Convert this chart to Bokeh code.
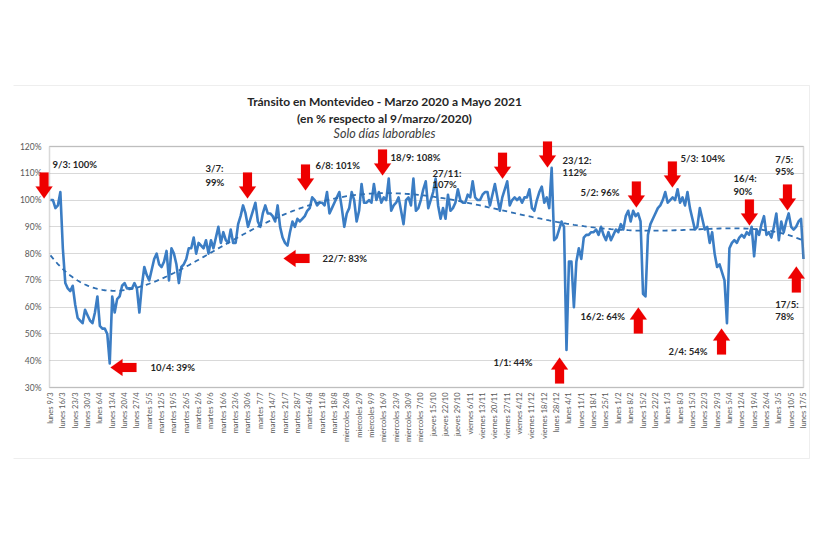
import numpy as np
from bokeh.plotting import figure
from bokeh.models import Range1d, FixedTicker, PrintfTickFormatter, Label, PolyAnnotation
from bokeh.embed import file_html
from bokeh.resources import INLINE

# ---------------- data ----------------
tick_labels = [
    "lunes 9/3", "lunes 16/3", "lunes 23/3", "lunes 30/3", "lunes 6/4", "lunes 13/4",
    "lunes 20/4", "lunes 27/4", "martes 5/5", "martes 12/5", "martes 19/5", "martes 26/5",
    "martes 2/6", "martes 9/6", "martes 16/6", "martes 23/6", "martes 30/6", "martes 7/7",
    "martes 14/7", "martes 21/7", "martes 28/7", "martes 4/8", "martes 11/8", "martes 18/8",
    "miercoles 26/8", "miercoles 2/9", "miercoles 9/9", "miercoles 16/9", "miercoles 23/9",
    "miercoles 30/9", "miercoles 7/10", "jueves 15/10", "jueves 22/10", "jueves 29/10",
    "viernes 6/11", "viernes 13/11", "viernes 20/11", "viernes 27/11", "viernes 4/12",
    "viernes 11/12", "viernes 18/12", "lunes 28/12", "lunes 4/1", "lunes 11/1", "lunes 18/1",
    "lunes 25/1", "lunes 1/2", "lunes 8/2", "lunes 15/2", "lunes 22/2", "lunes 1/3",
    "lunes 8/3", "lunes 15/3", "lunes 22/3", "lunes 29/3", "lunes 5/4", "lunes 12/4",
    "lunes 19/4", "lunes 26/4", "lunes 3/5", "lunes 10/5", "lunes 17/5",
]

# % of traffic relative to 9/3/2020, one value per working day (5 per labelled week)
transit = [
    100, 100, 97, 98, 103,
    82, 69, 67, 66, 68,
    61, 56, 55, 54, 59,
    57, 55, 54, 58, 64,
    53, 52, 52, 50, 39,
    64, 58, 63, 64, 68,
    69, 67, 67, 67, 69,
    67, 58, 68, 75, 72,
    70, 74, 78, 80, 76,
    75, 77, 81, 70, 82,
    80, 76, 69, 75, 76,
    78, 82, 82, 86, 80,
    84, 83, 82, 85, 80,
    85, 82, 86, 90, 84,
    88, 85, 84, 89, 84,
    84, 91, 94, 98, 95,
    90, 93, 96, 99, 92,
    90, 95, 98, 95, 95,
    94, 92, 98, 90, 86,
    84, 83, 88, 92, 90,
    93, 92, 93, 94, 96,
    97, 101, 100, 98, 99,
    99, 98, 103, 95, 97,
    99, 101, 103, 97, 90,
    95, 97, 103, 100, 92,
    96, 106, 99, 99, 100,
    99, 106, 100, 103, 99,
    101, 100, 108, 96, 98,
    99, 101, 96, 91, 100,
    101, 98, 108, 96, 97,
    100, 104, 107, 97, 100,
    103, 108, 98, 93, 97,
    93, 102, 96, 97, 99,
    104, 100, 99, 99, 102,
    101, 107, 101, 100, 100,
    102, 103, 103, 98, 102,
    106, 101, 96, 101, 104,
    107, 98, 100, 101, 100,
    101, 99, 101, 101, 104,
    97, 96, 100, 103, 105,
    99, 101, 97, 112, 85,
    86, 89, 92, 90, 44,
    77, 77, 60, 77, 82,
    78, 86, 87, 87, 88,
    88, 89, 87, 90, 87,
    85, 88, 85, 87, 89,
    88, 91, 89, 94, 96,
    92, 96, 94, 95, 92,
    65, 64, 87, 91, 93,
    95, 97, 98, 100, 103,
    99, 100, 101, 100, 104,
    99, 101, 98, 103, 97,
    93, 89, 90, 97, 93,
    89, 90, 84, 88, 80,
    75, 76, 73, 70, 54,
    82, 84, 85, 84, 86,
    87, 86, 88, 87, 90,
    79, 89, 87, 91, 94,
    87, 88, 86, 90, 95,
    85, 92, 88, 92, 95,
    90, 89, 90, 92, 93,
    78,
]

y_ticks = [30, 40, 50, 60, 70, 80, 90, 100, 110, 120]

# annotation arrows: tip position (working-day index, %) and pointing direction
arrow_x = [-2.6, 24.3, 79.8, 94.4, 103.3, 134.5, 183.1, 201.3, 206.2, 237.3, 238.1, 251.9, 271.8, 283.1, 298.5, 302.1]
arrow_y = [100.6, 37.5, 100.6, 78.2, 103.6, 109.2, 108.0, 112.2, 41.2, 97.2, 59.9, 104.7, 52.0, 90.5, 96.1, 75.2]
arrow_dir = ["down", "left", "down", "left", "down", "down", "down", "down", "up", "down", "up", "down", "up", "down", "down", "up"]

# annotation texts and their anchors (working-day index, %)
note_text = ["9/3: 100%", "10/4: 39%", "3/7:", "99%", "22/7: 83%", "6/8: 101%", "18/9: 108%",
             "27/11:", "107%", "23/12:", "112%", "1/1: 44%", "5/2: 96%", "16/2: 64%",
             "5/3: 104%", "2/4: 54%", "16/4:", "90%", "7/5:", "95%", "17/5:", "78%"]
note_x = [0.8, 40.5, 62.8, 62.8, 110.2, 107.3, 137.7, 154.7, 154.7, 207.4, 207.4, 179.4,
          214.7, 214.7, 255.2, 250.3, 276.6, 276.6, 293.6, 293.6, 293.6, 293.6]
note_y = [113.3, 37.5, 111.8, 106.6, 78.2, 112.9, 115.9, 109.9, 105.8, 114.8, 110.3, 39.3,
          102.8, 56.5, 115.5, 43.5, 108.1, 103.2, 115.1, 110.7, 61.0, 56.5]

title_lines = ["Tránsito en Montevideo - Marzo 2020 a Mayo 2021",
               "(en % respecto al 9/marzo/2020)",
               "Solo días laborables"]

# ---------------- geometry (canvas pixels) ----------------
W, H = 822, 548
PL, PR, PT, PB = 49, 803, 146, 387      # plot-area box inside the canvas
x0, x1 = -0.4, len(transit) - 1          # data at plot-area edges
y0, y1 = 30, 120
PXX = (PR - PL) / (x1 - x0)
PXY = (PB - PT) / (y1 - y0)

def dx(c):   # canvas x -> data x
    return x0 + (c - PL) / PXX

def dy(r):   # canvas y -> data y
    return y1 - (r - PT) / PXY

p = figure(width=W, height=H, output_backend="svg", toolbar_location=None,
           x_range=Range1d(dx(0), dx(W)), y_range=Range1d(dy(H), dy(0)),
           min_border=0, min_border_left=0, min_border_right=0,
           min_border_top=0, min_border_bottom=0,
           background_fill_color="white", border_fill_color="white")
p.outline_line_color = None

xs = np.arange(len(transit))
trend = np.polynomial.Polynomial.fit(xs, transit, 5)(xs)

# grid lines limited to plot area
try:
    p.ygrid.cross_bounds = (x0, x1)
    p.ygrid.bounds = (y0, y1)
    p.ygrid.ticker = FixedTicker(ticks=y_ticks)
    p.ygrid.grid_line_color = "#d9d9d9"
except Exception:
    p.ygrid.grid_line_color = None
    p.segment(x0=[x0] * len(y_ticks), x1=[x1] * len(y_ticks), y0=y_ticks, y1=y_ticks,
              line_color="#d9d9d9", line_width=1)
p.xgrid.grid_line_color = None

p.line(xs, transit, line_color="#3b7dc4", line_width=2.6, line_join="round")
p.line(xs, trend, line_color="#2f6fb3", line_width=1.8, line_dash="5 4")

# plot area border
p.add_layout(PolyAnnotation(xs=[x0, x1, x1, x0], ys=[y0, y0, y1, y1], fill_alpha=0,
                            line_color="#808080", line_width=1.5))

# axes placed at the plot-area edges
p.xaxis.fixed_location = y0
p.yaxis.fixed_location = x0
p.xaxis.bounds = (x0, x1)
p.yaxis.bounds = (y0, y1)
p.xaxis.ticker = FixedTicker(ticks=[5 * i for i in range(len(tick_labels))])
p.xaxis.major_label_overrides = {5 * i: t for i, t in enumerate(tick_labels)}
p.xaxis.major_label_orientation = np.pi / 2
p.yaxis.ticker = FixedTicker(ticks=y_ticks)
p.yaxis.formatter = PrintfTickFormatter(format="%d%%")
for ax in (p.xaxis, p.yaxis):
    ax.axis_line_color = None
    ax.major_tick_line_color = None
    ax.minor_tick_line_color = None
    ax.major_tick_out = 0
    ax.major_tick_in = 0
    ax.major_label_text_color = "#595959"
    ax.major_label_text_font = "Lato"
p.xaxis.major_label_text_font_size = "7.5px"
p.xaxis.major_label_standoff = 5
p.yaxis.major_label_text_font_size = "8.5px"
p.yaxis.major_label_standoff = 8

# outer sheet lines (top, right, bottom)
sx0, sx1, syt, syb = dx(13), dx(809), dy(85), dy(458)
for lx, ly in (([sx0, sx1], [syt, syt]), ([sx1, sx1], [syt, syb]), ([sx0, sx1], [syb, syb])):
    p.add_layout(PolyAnnotation(xs=lx, ys=ly, fill_alpha=0, line_color="#c8c8c8", line_width=1))

# red block arrows
L, HL, HW, SW = 26, 12, 17, 9
shape = [(0, 0), (HL, -HW / 2), (HL, -SW / 2), (L, -SW / 2), (L, SW / 2), (HL, SW / 2), (HL, HW / 2)]
for ax_, ay_, d in zip(arrow_x, arrow_y, arrow_dir):
    if d == "down":
        pts = [(ax_ + v / PXX, ay_ + u / PXY) for u, v in shape]
    elif d == "up":
        pts = [(ax_ + v / PXX, ay_ - u / PXY) for u, v in shape]
    else:
        pts = [(ax_ + u / PXX, ay_ + v / PXY) for u, v in shape]
    p.add_layout(PolyAnnotation(xs=[q[0] for q in pts], ys=[q[1] for q in pts],
                                fill_color="#ee0000", fill_alpha=1, line_color="#ee0000",
                                line_width=0.5))

for t, nx, ny in zip(note_text, note_x, note_y):
    p.add_layout(Label(x=nx, y=ny, text=t, text_font="Lato", text_font_style="bold",
                       text_font_size="9.5px", text_color="#262626",
                       text_align="left", text_baseline="middle"))

# titles
for i, (t, ty_px, style, size) in enumerate(zip(
        title_lines, [101, 118, 133], ["bold", "bold", "italic"], ["12px", "12px", "12.5px"])):
    p.add_layout(Label(x=dx(384), y=dy(ty_px), text=t, text_font="Lato", text_font_style=style,
                       text_font_size=size, text_color="#262626" if i < 2 else "#404040",
                       text_align="center", text_baseline="middle"))

open("out.html", "w").write(file_html(p, INLINE))
